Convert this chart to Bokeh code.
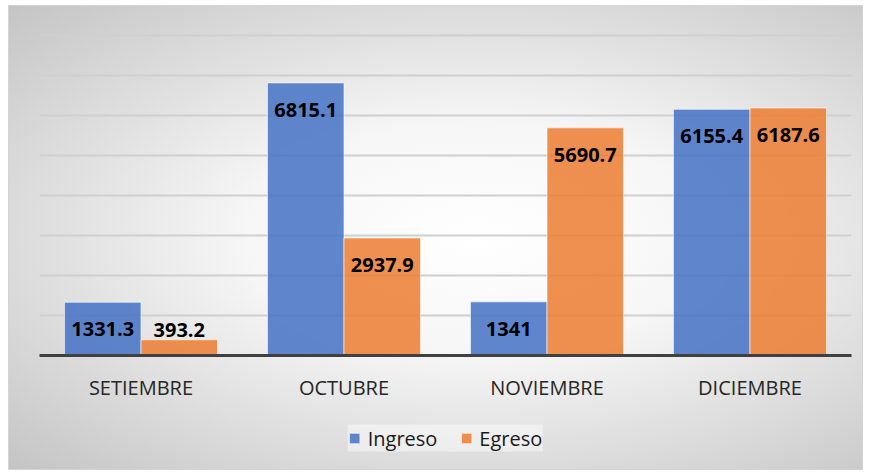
from bokeh.plotting import figure
from bokeh.models import ColumnDataSource, FactorRange, Range1d, Legend, LegendItem, SingleIntervalTicker
from bokeh.layouts import column
from bokeh.transform import dodge
from bokeh.core.properties import value
from bokeh.embed import file_html
from bokeh.resources import INLINE

months = ["SETIEMBRE", "OCTUBRE", "NOVIEMBRE", "DICIEMBRE"]
ingreso = [1331.3, 6815.1, 1341.0, 6155.4]
egreso = [393.2, 2937.9, 5690.7, 6187.6]
ingreso_labels = ["1331.3", "6815.1", "1341", "6155.4"]
egreso_labels = ["393.2", "2937.9", "5690.7", "6187.6"]
series_names = ["Ingreso", "Egreso"]

BLUE = "#4472C4"
ORANGE = "#ED7D31"
FONT = "Open Sans"

def offsets(vals):
    # inside end for tall bars, outside end for short ones
    return [27 if v > 800 else -10 for v in vals]

src = ColumnDataSource(dict(
    month=months, ingreso=ingreso, egreso=egreso,
    ing_lbl=ingreso_labels, egr_lbl=egreso_labels,
    ing_off=offsets(ingreso), egr_off=offsets(egreso),
))

p = figure(
    x_range=FactorRange(*months), y_range=Range1d(0, 8100),
    width=855, height=400, output_backend="svg", toolbar_location=None,
    min_border_left=31, min_border_right=12, min_border_top=26, min_border_bottom=50,
)
p.background_fill_color = None
p.border_fill_color = None
p.outline_line_color = None

bar_style = dict(fill_alpha=0.85, line_color="#ffffff", line_alpha=0.6, line_width=1)
bw = 0.377
p.vbar(x=dodge("month", -bw / 2, range=p.x_range), top="ingreso", width=bw, source=src,
       fill_color=BLUE, **bar_style)
p.vbar(x=dodge("month", bw / 2, range=p.x_range), top="egreso", width=bw, source=src,
       fill_color=ORANGE, **bar_style)

lbl_style = dict(text_align="center", text_baseline="middle", text_font=value(FONT),
                 text_font_style="bold", text_font_size="20px", text_color="#000000")
p.text(x=dodge("month", -bw / 2, range=p.x_range), y="ingreso", text="ing_lbl", y_offset="ing_off",
       source=src, **lbl_style)
p.text(x=dodge("month", bw / 2, range=p.x_range), y="egreso", text="egr_lbl", y_offset="egr_off",
       source=src, **lbl_style)

p.yaxis.visible = False
p.yaxis.ticker = SingleIntervalTicker(interval=1000)
p.ygrid.ticker = SingleIntervalTicker(interval=1000)
p.ygrid.grid_line_color = "#cfcfcf"
p.ygrid.grid_line_width = 2
p.xgrid.grid_line_color = None

ax = p.xaxis[0]
ax.axis_line_color = "#404040"
ax.axis_line_width = 3
ax.major_tick_line_color = None
ax.minor_tick_line_color = None
ax.major_tick_out = 0
ax.major_label_standoff = 18
ax.major_label_text_font = FONT
ax.major_label_text_font_size = "20px"
ax.major_label_text_color = "#262626"

# legend strip below the chart
pl = figure(
    x_range=Range1d(0, 1), y_range=Range1d(0, 1),
    width=855, height=65, output_backend="svg", toolbar_location=None,
    min_border_left=31, min_border_right=12, min_border_top=0, min_border_bottom=0,
    x_axis_location=None, y_axis_location=None,
)
pl.background_fill_color = None
pl.border_fill_color = None
pl.outline_line_color = None
pl.xgrid.grid_line_color = None
pl.ygrid.grid_line_color = None
# legend-only renderers: one bar each, placed below the visible range
proxy = ColumnDataSource(dict(x=[0.5], bottom=[-5.0], top=[-4.0]))
l1 = pl.vbar(x="x", bottom="bottom", top="top", width=0.1, source=proxy, fill_color=BLUE, **bar_style)
l2 = pl.vbar(x="x", bottom="bottom", top="top", width=0.1, source=proxy, fill_color=ORANGE, **bar_style)

legend = Legend(items=[LegendItem(label=series_names[0], renderers=[l1]),
                       LegendItem(label=series_names[1], renderers=[l2])],
                orientation="horizontal", location="center")
legend.label_text_font = FONT
legend.label_text_font_size = "20px"
legend.label_text_color = "#1a1a1a"
legend.glyph_width = 13
legend.glyph_height = 13
legend.label_standoff = 7
legend.spacing = 22
legend.padding = 12
legend.margin = 0
legend.background_fill_color = "#ffffff"
legend.background_fill_alpha = 0.45
legend.border_line_color = None
pl.add_layout(legend, "center")

layout = column(p, pl, spacing=0)
layout.styles = {
    "background-image": "radial-gradient(ellipse at 55% 50%, #ffffff 0%, #f6f6f6 35%, #c4c4c4 100%)",
    "box-shadow": "inset 0 0 0 1px #d4d4d4",
    "margin-left": "8px",
    "margin-top": "5px",
}

open("out.html", "w").write(file_html(layout, INLINE))
